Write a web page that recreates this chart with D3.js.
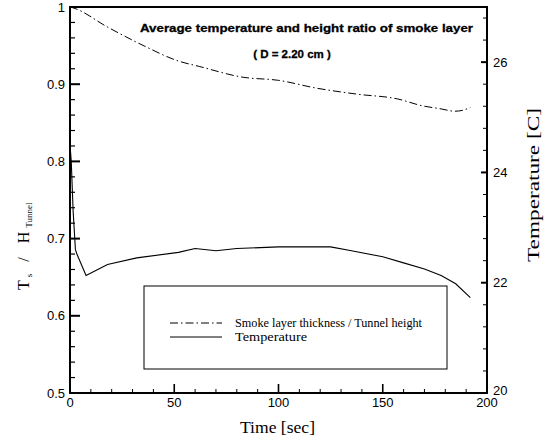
<!DOCTYPE html>
<html>
<head>
<meta charset="utf-8">
<script src="https://cdn.jsdelivr.net/npm/d3@7"></script>
<style>
  body { margin: 0; background: #fff; }
  svg { display: block; }
  .tick-label { font-family: "Liberation Sans", Arial, sans-serif; font-size: 13px; fill: #000; }
  .serif { font-family: "Liberation Serif", "Times New Roman", serif; fill: #000; }
</style>
</head>
<body>
<div id="chart"></div>
<script>
// time axis [sec]
let smokeTime = [0, 1.4, 18, 36, 52, 62, 83, 100, 118, 138, 157, 169, 178, 184.6, 188, 192];
// smoke layer thickness / tunnel height (left axis)
let smokeRatio = [1.0, 0.999, 0.974, 0.949, 0.930, 0.923, 0.909, 0.905, 0.895, 0.887, 0.881, 0.872, 0.868, 0.865, 0.866, 0.870];

let tempTime = [0, 0.6, 1.5, 2.6, 3.4, 7.7, 18, 32, 52, 60, 70, 80, 100, 125, 135, 150, 160, 170, 178, 185, 192];
// temperature [C] (right axis)
let temperature = [24.5, 24.2, 23.3, 22.6, 22.51, 22.13, 22.33, 22.45, 22.55, 22.62, 22.58, 22.62, 22.65, 22.65, 22.58, 22.47, 22.36, 22.25, 22.13, 21.98, 21.73];

let leftTicks = [0.5, 0.6, 0.7, 0.8, 0.9, 1];
let rightTicks = [20, 22, 24, 26];
let xTicks = [0, 50, 100, 150, 200];

let legendLabels = ["Smoke layer thickness / Tunnel height", "Temperature"];
let legendWidths = [187, 72];

let width = 546, height = 441;
let plot = {left: 70, right: 487, top: 7, bottom: 393};

let svg = d3.select("#chart").append("svg")
    .attr("width", width)
    .attr("height", height);

let x = d3.scaleLinear().domain([0, 200]).range([plot.left, plot.right]);
let yL = d3.scaleLinear().domain([0.5, 1]).range([plot.bottom, plot.top]);
let yR = d3.scaleLinear().domain([20, 27]).range([plot.bottom, plot.top]);

// minor ticks
let xMinor = d3.range(0, 201, 10);
let yLMinor = d3.range(0.5, 1.001, 0.02);
let yRMinor = d3.range(20, 27.01, 0.4);

let g = svg.append("g");

// bottom axis ticks (inward)
g.selectAll(".xminor").data(xMinor).enter().append("line")
    .attr("x1", d => x(d)).attr("x2", d => x(d))
    .attr("y1", plot.bottom).attr("y2", d => plot.bottom - (d % 50 === 0 ? 9 : 4))
    .attr("stroke", "#000").attr("stroke-width", d => d % 50 === 0 ? 1.6 : 1);

// left axis ticks
g.selectAll(".ylminor").data(yLMinor).enter().append("line")
    .attr("x1", plot.left).attr("x2", (d, i) => plot.left + (i % 5 === 0 ? 10 : 5))
    .attr("y1", d => yL(d)).attr("y2", d => yL(d))
    .attr("stroke", "#000").attr("stroke-width", (d, i) => i % 5 === 0 ? 2 : 1.2);

// right axis ticks
g.selectAll(".yrminor").data(yRMinor).enter().append("line")
    .attr("x1", plot.right).attr("x2", (d, i) => plot.right - (i % 5 === 0 ? 6 : 4))
    .attr("y1", d => yR(d)).attr("y2", d => yR(d))
    .attr("stroke", "#000").attr("stroke-width", (d, i) => i % 5 === 0 ? 2 : 1);

// frame
g.append("rect")
    .attr("x", plot.left).attr("y", plot.top)
    .attr("width", plot.right - plot.left).attr("height", plot.bottom - plot.top)
    .attr("fill", "none").attr("stroke", "#000").attr("stroke-width", 2);

// tick labels
g.selectAll(".lt").data(leftTicks).enter().append("text")
    .attr("class", "tick-label")
    .attr("x", plot.left - 5).attr("y", d => yL(d))
    .attr("dy", "0.36em").attr("text-anchor", "end")
    .text(d => d);

g.selectAll(".rt").data(rightTicks).enter().append("text")
    .attr("class", "tick-label")
    .attr("x", plot.right + 6).attr("y", d => yR(d) - (d === 20 ? 3 : 0))
    .attr("dy", "0.36em")
    .text(d => d);

g.selectAll(".xt").data(xTicks).enter().append("text")
    .attr("class", "tick-label")
    .attr("x", d => x(d)).attr("y", plot.bottom + 14)
    .attr("text-anchor", "middle")
    .text(d => d);

// axis titles
svg.append("text").attr("class", "serif")
    .attr("x", 240).attr("y", 433)
    .attr("textLength", 75).attr("lengthAdjust", "spacingAndGlyphs")
    .style("font-size", "16px")
    .text("Time [sec]");

let yl = svg.append("text").attr("class", "serif")
    .attr("transform", "translate(29,290) rotate(-90)")
    .style("font-size", "16px");
yl.append("tspan").text("T");
yl.append("tspan").attr("dx", 3).attr("dy", 3).style("font-size", "9px").text("s");
yl.append("tspan").attr("dx", 12).attr("dy", -3).text("/");
yl.append("tspan").attr("dx", 14).text("H");
yl.append("tspan").attr("dx", 4).attr("dy", 3).style("font-size", "9px").text("Tunnel");

svg.append("text").attr("class", "serif")
    .attr("transform", "translate(539,262) rotate(-90)")
    .attr("textLength", 154).attr("lengthAdjust", "spacingAndGlyphs")
    .style("font-size", "16px")
    .text("Temperature [C]");

// titles
svg.append("text")
    .attr("x", 140).attr("y", 32)
    .attr("textLength", 333).attr("lengthAdjust", "spacingAndGlyphs")
    .style("font-family", "Liberation Sans, Arial, sans-serif")
    .style("font-size", "11.5px").style("font-weight", "bold")
    .attr("stroke", "#000").attr("stroke-width", 0.3)
    .text("Average temperature and height ratio of smoke layer");

svg.append("text")
    .attr("x", 292).attr("y", 58)
    .attr("text-anchor", "middle")
    .style("font-family", "Liberation Sans, Arial, sans-serif")
    .style("font-size", "11.5px").style("font-weight", "bold")
    .attr("stroke", "#000").attr("stroke-width", 0.3)
    .text("( D = 2.20 cm )");

// lines
let smokeLine = d3.line()
    .x((d, i) => x(smokeTime[i]))
    .y(d => yL(d))
    .curve(d3.curveMonotoneX);

let tempLine = d3.line()
    .x((d, i) => x(tempTime[i]))
    .y(d => yR(d));

svg.append("path")
    .attr("d", smokeLine(smokeRatio))
    .attr("fill", "none").attr("stroke", "#000").attr("stroke-width", 1)
    .attr("stroke-dasharray", "8,3,1.5,3");

svg.append("path")
    .attr("d", tempLine(temperature))
    .attr("fill", "none").attr("stroke", "#000").attr("stroke-width", 1.1);

// legend
let lg = svg.append("g");
lg.append("rect")
    .attr("x", 144).attr("y", 286)
    .attr("width", 303).attr("height", 83)
    .attr("fill", "#fff").attr("stroke", "#000").attr("stroke-width", 1);

lg.selectAll(".ll").data(legendLabels).enter().append("line")
    .attr("x1", 170).attr("x2", 222)
    .attr("y1", (d, i) => 323 + i * 14).attr("y2", (d, i) => 323 + i * 14)
    .attr("stroke", "#000").attr("stroke-width", 1)
    .attr("stroke-dasharray", (d, i) => i === 0 ? "8,3,1.5,3" : null);

lg.selectAll(".lt").data(legendLabels).enter().append("text")
    .attr("class", "serif")
    .attr("x", 235).attr("y", (d, i) => 327 + i * 14)
    .attr("textLength", (d, i) => legendWidths[i]).attr("lengthAdjust", "spacingAndGlyphs")
    .style("font-size", "11.5px")
    .text(d => d);
</script>
</body>
</html>
